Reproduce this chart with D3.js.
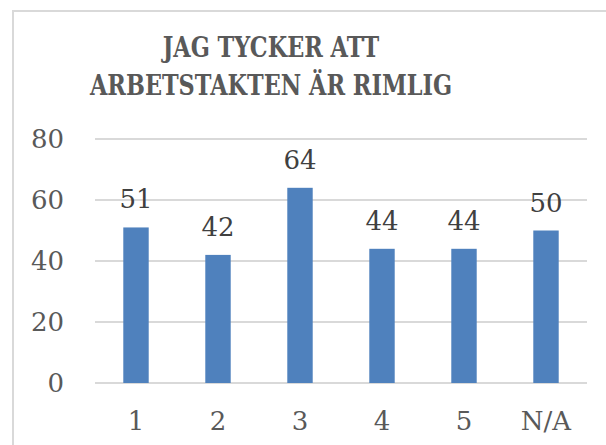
<!DOCTYPE html>
<html>
<head>
<meta charset="utf-8">
<script src="https://cdn.jsdelivr.net/npm/d3@7"></script>
<style>
    html, body { margin: 0; padding: 0; background: #fff; }
    svg { display: block; }
</style>
</head>
<body>
<div id="chart"></div>
<script>
// Chart data
const categories = ['1', '2', '3', '4', '5', 'N/A'];
const counts = [51, 42, 64, 44, 44, 50];
const yTicks = [0, 20, 40, 60, 80];
const titleLines = ['JAG TYCKER ATT', 'ARBETSTAKTEN ÄR RIMLIG'];

const width = 606;
const height = 445;
const numFont = 'DejaVu Serif, serif';

const svg = d3.select('#chart').append('svg')
    .attr('width', width)
    .attr('height', height);

// Chart frame - only its left and top edges fall inside the window
svg.append('rect')
    .attr('x', 13)
    .attr('y', 11)
    .attr('width', 640)
    .attr('height', 480)
    .style('fill', 'none')
    .style('stroke', '#d9d9d9')
    .style('stroke-width', 2);

const x = d3.scaleBand()
    .domain(categories)
    .range([95, 587])
    .paddingInner(0.69)
    .paddingOuter(0.345);

const y = d3.scaleLinear()
    .domain([0, 80])
    .range([383, 139]);

// Two line title. DejaVu Serif Bold squeezed sideways so it reads like the narrow bold serif of the original.
svg.append('g')
    .selectAll('text')
    .data(titleLines)
    .enter().append('text')
    .attr('transform', (d, i) => `translate(271,${57 + i * 38}) scale(0.8,1)`)
    .attr('text-anchor', 'middle')
    .attr('font-family', 'DejaVu Serif')
    .attr('font-weight', 'bold')
    .attr('font-size', 28)
    .attr('fill', '#595959')
    .text(d => d);

// Gridlines
svg.append('g')
    .selectAll('line')
    .data(yTicks)
    .enter().append('line')
    .attr('x1', x.range()[0])
    .attr('x2', x.range()[1])
    .attr('y1', d => y(d))
    .attr('y2', d => y(d))
    .style('stroke', '#d9d9d9')
    .style('stroke-width', 2);

// Y tick labels
svg.append('g')
    .selectAll('text')
    .data(yTicks)
    .enter().append('text')
    .attr('x', 64)
    .attr('y', d => y(d))
    .attr('dy', '0.36em')
    .attr('text-anchor', 'end')
    .attr('font-family', numFont)
    .attr('font-size', 26)
    .attr('fill', '#595959')
    .text(d => d);

// Bars
svg.append('g')
    .selectAll('rect')
    .data(counts)
    .enter().append('rect')
    .attr('x', (d, i) => x(categories[i]))
    .attr('y', d => y(d))
    .attr('width', x.bandwidth())
    .attr('height', d => y(0) - y(d))
    .style('fill', '#4f81bd');

// Value labels above bars
svg.append('g')
    .selectAll('text')
    .data(counts)
    .enter().append('text')
    .attr('x', (d, i) => x(categories[i]) + x.bandwidth() / 2)
    .attr('y', d => y(d) - 19)
    .attr('text-anchor', 'middle')
    .attr('font-family', numFont)
    .attr('font-size', 26)
    .attr('fill', '#404040')
    .text(d => d);

// Category labels
svg.append('g')
    .selectAll('text')
    .data(categories)
    .enter().append('text')
    .attr('x', d => x(d) + x.bandwidth() / 2)
    .attr('y', 430)
    .attr('text-anchor', 'middle')
    .attr('font-family', numFont)
    .attr('font-size', 26)
    .attr('fill', '#595959')
    .text(d => d);
</script>
</body>
</html>
